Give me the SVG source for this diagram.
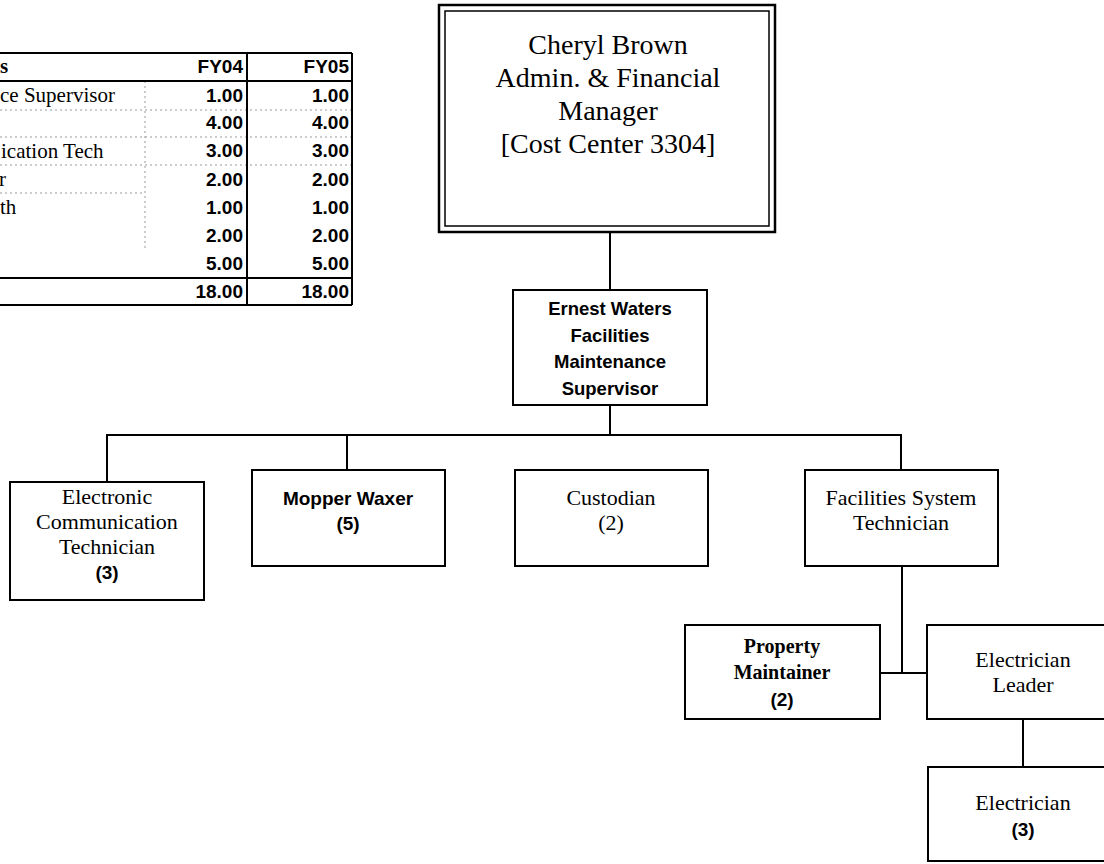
<svg xmlns="http://www.w3.org/2000/svg" width="1104" height="864" viewBox="0 0 1104 864">
<style>
.bg{fill:#fff}
.box{fill:#fff;stroke:#000;stroke-width:2}
.ln{stroke:#000;stroke-width:2;fill:none}
.tl{stroke:#000;stroke-width:2;fill:none}
.dot{stroke:#999;stroke-width:1;stroke-dasharray:2 3;fill:none}
.sf{font-family:"Liberation Serif",serif;fill:#000}
.sb{font-family:"Liberation Sans",sans-serif;font-weight:bold;fill:#000}
.c{text-anchor:middle}
.r{text-anchor:end}
</style>
<rect class="bg" x="0" y="0" width="1104" height="864"/>

<g id="fte-table">
  <line class="dot" x1="145" y1="81" x2="145" y2="250"/>
  <line class="dot" x1="0" y1="110" x2="352" y2="110"/>
  <line class="dot" x1="0" y1="137" x2="352" y2="137"/>
  <line class="dot" x1="0" y1="165" x2="352" y2="165"/>
  <line class="dot" x1="0" y1="193" x2="145" y2="193"/>
  <line class="tl" x1="0" y1="53" x2="352" y2="53"/>
  <line class="tl" x1="0" y1="81" x2="352" y2="81"/>
  <line class="tl" x1="0" y1="278" x2="352" y2="278"/>
  <line class="ln" x1="0" y1="305" x2="352" y2="305" stroke-width="1.5"/>
  <line class="tl" x1="247" y1="53" x2="247" y2="305"/>
  <line class="tl" x1="352" y1="53" x2="352" y2="305"/>
  <text class="sf" x="0" y="73" font-size="21" font-weight="bold">s</text>
  <text class="sf" x="0" y="102" font-size="21">ce Supervisor</text>
  <text class="sf" x="1" y="158" font-size="21">ication Tech</text>
  <text class="sf" x="-1" y="186" font-size="21">r</text>
  <text class="sf" x="0" y="214" font-size="21">th</text>
  <g class="sb r" font-size="19">
    <text x="243" y="73">FY04</text>
    <text x="349" y="73">FY05</text>
    <text x="243" y="102">1.00</text>
    <text x="349" y="102">1.00</text>
    <text x="243" y="129">4.00</text>
    <text x="349" y="129">4.00</text>
    <text x="243" y="157">3.00</text>
    <text x="349" y="157">3.00</text>
    <text x="243" y="186">2.00</text>
    <text x="349" y="186">2.00</text>
    <text x="243" y="214">1.00</text>
    <text x="349" y="214">1.00</text>
    <text x="243" y="242">2.00</text>
    <text x="349" y="242">2.00</text>
    <text x="243" y="270">5.00</text>
    <text x="349" y="270">5.00</text>
    <text x="243" y="298">18.00</text>
    <text x="349" y="298">18.00</text>
  </g>
</g>

<g id="connectors">
  <line class="ln" x1="610" y1="233" x2="610" y2="290"/>
  <line class="ln" x1="610" y1="405" x2="610" y2="435"/>
  <line class="ln" x1="107" y1="435" x2="901" y2="435"/>
  <line class="ln" x1="107" y1="434" x2="107" y2="482"/>
  <line class="ln" x1="347" y1="434" x2="347" y2="470"/>
  <line class="ln" x1="901" y1="434" x2="901" y2="470"/>
  <line class="ln" x1="902" y1="566" x2="902" y2="673"/>
  <line class="ln" x1="880" y1="673" x2="927" y2="673"/>
  <line class="ln" x1="1023" y1="719" x2="1023" y2="767"/>
</g>

<g id="cheryl-brown">
  <rect x="439" y="5" width="336" height="227" fill="#fff" stroke="#000" stroke-width="2.5"/>
  <rect x="445" y="11" width="324" height="215" fill="none" stroke="#000" stroke-width="1.5"/>
  <g class="sf c" font-size="28">
    <text x="608" y="54">Cheryl Brown</text>
    <text x="608" y="87">Admin. &amp; Financial</text>
    <text x="608" y="120">Manager</text>
    <text x="608" y="153">[Cost Center 3304]</text>
  </g>
</g>

<g id="ernest-waters">
  <rect class="box" x="513" y="290" width="194" height="115"/>
  <g class="sb c" font-size="18.5">
    <text x="610" y="315">Ernest Waters</text>
    <text x="610" y="342">Facilities</text>
    <text x="610" y="368">Maintenance</text>
    <text x="610" y="395">Supervisor</text>
  </g>
</g>

<g id="electronic-communication-technician">
  <rect class="box" x="10" y="482" width="194" height="118"/>
  <g class="sf c" font-size="22">
    <text x="107" y="504">Electronic</text>
    <text x="107" y="529">Communication</text>
    <text x="107" y="554">Technician</text>
  </g>
  <text class="sb c" x="107" y="579" font-size="19">(3)</text>
</g>

<g id="mopper-waxer">
  <rect class="box" x="252" y="470" width="193" height="96"/>
  <text class="sb c" x="348" y="505" font-size="19">Mopper Waxer</text>
  <text class="sb c" x="348" y="530" font-size="19">(5)</text>
</g>

<g id="custodian">
  <rect class="box" x="515" y="470" width="193" height="96"/>
  <text class="sf c" x="611" y="505" font-size="22">Custodian</text>
  <text class="sf c" x="611" y="530" font-size="22">(2)</text>
</g>

<g id="facilities-system-technician">
  <rect class="box" x="805" y="470" width="193" height="96"/>
  <text class="sf c" x="901" y="505" font-size="22">Facilities System</text>
  <text class="sf c" x="901" y="530" font-size="22">Technician</text>
</g>

<g id="property-maintainer">
  <rect class="box" x="685" y="625" width="195" height="94"/>
  <text class="sf c" x="782" y="653" font-size="20" font-weight="bold">Property</text>
  <text class="sf c" x="782" y="679" font-size="20" font-weight="bold">Maintainer</text>
  <text class="sb c" x="782" y="706" font-size="19">(2)</text>
</g>

<g id="electrician-leader">
  <rect class="box" x="927" y="625" width="195" height="94"/>
  <text class="sf c" x="1023" y="667" font-size="22">Electrician</text>
  <text class="sf c" x="1023" y="692" font-size="22">Leader</text>
</g>

<g id="electrician">
  <rect class="box" x="928" y="767" width="194" height="94"/>
  <text class="sf c" x="1023" y="810" font-size="22">Electrician</text>
  <text class="sb c" x="1023" y="836" font-size="19">(3)</text>
</g>
</svg>
